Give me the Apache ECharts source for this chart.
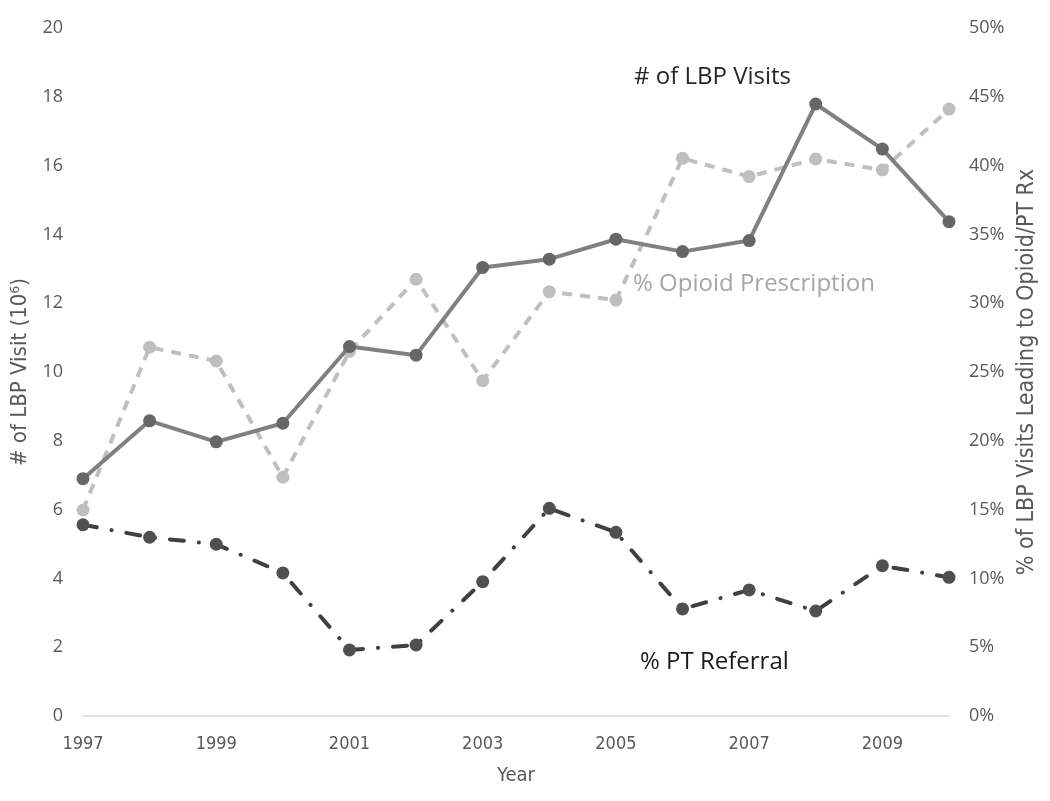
<!DOCTYPE html>
<html>
<head>
<meta charset="utf-8">
<script src="https://cdn.jsdelivr.net/npm/echarts@6/dist/echarts.min.js"></script>
<style>html,body{margin:0;padding:0;background:#fff}#c{width:1050px;height:801px}</style>
</head>
<body>
<div id="c"></div>
<script>
const years = ['1997','1998','1999','2000','2001','2002','2003','2004','2005','2006','2007','2008','2009','2010'];
const lbpVisits = [6.90, 8.58, 7.97, 8.51, 10.74, 10.49, 13.04, 13.28, 13.86, 13.50, 13.82, 17.79, 16.48, 14.37];
const opioidPct = [14.97, 26.8, 25.8, 17.35, 26.5, 31.74, 24.37, 30.84, 30.23, 40.53, 39.2, 40.48, 39.68, 44.11];
const ptPct = [13.9, 12.99, 12.48, 10.4, 4.8, 5.16, 9.76, 15.09, 13.35, 7.78, 9.16, 7.63, 10.92, 10.08];
const leftTicks = {min: 0, max: 20, interval: 2};
const rightTicks = {min: 0, max: 50, interval: 5};

const chart = echarts.init(document.getElementById('c'));
const tickFont = "'Open Sans', 'Noto Sans', sans-serif";
const narrowFont = "'DejaVu Sans Condensed', 'Liberation Sans', sans-serif";
chart.setOption({
  animation: false,
  backgroundColor: '#ffffff',
  grid: {left: 83, right: 101, top: 28, bottom: 85, containLabel: false, outerBoundsMode: 'none'},
  xAxis: {
    type: 'category', data: years, boundaryGap: false,
    axisLine: {lineStyle: {color: '#d9d9d9', width: 1.5}},
    axisTick: {show: false},
    axisLabel: {interval: 1, color: '#595959', fontSize: 18, fontFamily: narrowFont, margin: 19},
    splitLine: {show: false},
    name: 'Year', nameLocation: 'middle', nameGap: 50,
    nameTextStyle: {color: '#595959', fontSize: 20, fontFamily: narrowFont}
  },
  yAxis: [
    {
      type: 'value', min: leftTicks.min, max: leftTicks.max, interval: leftTicks.interval,
      axisLine: {show: false}, axisTick: {show: false}, splitLine: {show: false},
      axisLabel: {color: '#595959', fontSize: 18, fontFamily: tickFont, margin: 20},
      name: '# of LBP Visit (10⁶)', nameLocation: 'middle', nameGap: 50, nameRotate: 90,
      nameTextStyle: {color: '#595959', fontSize: 22, fontFamily: narrowFont}
    },
    {
      type: 'value', min: rightTicks.min, max: rightTicks.max, interval: rightTicks.interval,
      position: 'right',
      axisLine: {show: false}, axisTick: {show: false}, splitLine: {show: false},
      axisLabel: {color: '#595959', fontSize: 18, fontFamily: tickFont, margin: 20, formatter: '{value}%'},
      name: '% of LBP Visits Leading to Opioid/PT Rx', nameLocation: 'middle', nameGap: 66, nameRotate: 90,
      nameTextStyle: {color: '#595959', fontSize: 23, fontFamily: narrowFont}
    }
  ],
  series: [
    {
      name: '% Opioid Prescription', type: 'line', yAxisIndex: 1, data: opioidPct,
      symbol: 'circle', symbolSize: 13, z: 2,
      lineStyle: {color: '#bfbfbf', width: 4, type: [10, 8]},
      itemStyle: {color: '#bfbfbf'}
    },
    {
      name: '% PT Referral', type: 'line', yAxisIndex: 1, data: ptPct,
      symbol: 'circle', symbolSize: 13, z: 3,
      lineStyle: {color: '#404040', width: 4, type: [14, 15, 0.1, 15], cap: 'round'},
      itemStyle: {color: '#505050'}
    },
    {
      name: '# of LBP Visits', type: 'line', yAxisIndex: 0, data: lbpVisits,
      symbol: 'circle', symbolSize: 13, z: 4,
      lineStyle: {color: '#808080', width: 4},
      itemStyle: {color: '#666666'}
    }
  ],
  graphic: [
    {type: 'text', x: 634, y: 77, style: {text: '# of LBP Visits', fill: '#262626', verticalAlign: 'middle', font: "24px 'Open Sans', sans-serif"}},
    {type: 'text', x: 633, y: 284, style: {text: '% Opioid Prescription', fill: '#a6a6a6', verticalAlign: 'middle', font: "24px 'Open Sans', sans-serif"}},
    {type: 'text', x: 640, y: 662, style: {text: '% PT Referral', fill: '#1a1a1a', verticalAlign: 'middle', font: "24px 'Open Sans', sans-serif"}}
  ]
});
</script>
</body>
</html>
